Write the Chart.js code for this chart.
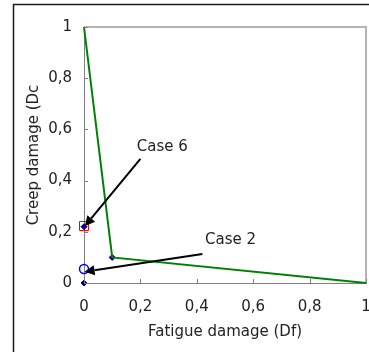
<!DOCTYPE html>
<html>
<head>
<meta charset="utf-8">
<script src="https://cdn.jsdelivr.net/npm/chart.js@4"></script>
<style>
  body { margin: 0; background: #fff; }
  canvas { display: block; }
</style>
</head>
<body>
<canvas id="miGrafico" width="369" height="352"></canvas>
<script>
// datos
const lineaX = [0, 0.1, 1];
const lineaY = [1, 0.1, 0];
const rombosX = [0, 0.1, 0];
const rombosY = [0, 0.1, 0.22];
const caso6 = { x: 0, y: 0.2227 };
const caso2 = { x: 0, y: 0.055 };
const flechaDesde = [[0.2, 0.485], [0.42, 0.113]];
const flechaHasta = [[0.003, 0.222], [0.002, 0.044]];
const etiquetas = ['Case 6', 'Case 2'];
const etiquetaPos = [[0.187, 0.53], [0.429, 0.168]];
const ticksX = [0, 0.2, 0.4, 0.6, 0.8, 1];
const ticksY = [0, 0.2, 0.4, 0.6, 0.8, 1];

const fuente = 'DejaVu Sans';
const colorTexto = '#222';

function aPuntos(xs, ys) {
    return xs.map((x, i) => ({ x: x, y: ys[i] }));
}

function formato(v) {
    return String(Math.round(v * 10) / 10).replace('.', ',');
}

const extras = {
    id: 'extras',
    beforeDraw(chart) {
        const ctx = chart.ctx;
        const a = chart.chartArea;
        ctx.save();
        // marco exterior
        ctx.strokeStyle = '#1a1a1a';
        ctx.lineWidth = 1.5;
        ctx.beginPath();
        ctx.moveTo(13.5, 400);
        ctx.lineTo(13.5, 4.5);
        ctx.lineTo(400, 4.5);
        ctx.stroke();
        // borde superior y derecho del area
        ctx.strokeStyle = '#b4b4b4';
        ctx.lineWidth = 2;
        ctx.beginPath();
        ctx.moveTo(a.left, a.top);
        ctx.lineTo(a.right, a.top);
        ctx.lineTo(a.right, a.bottom);
        ctx.stroke();
        ctx.restore();
    },
    afterDatasetsDraw(chart) {
        const ctx = chart.ctx;
        const x = chart.scales.x;
        const y = chart.scales.y;
        const a = chart.chartArea;
        ctx.save();
        // marcas de los ejes hacia dentro
        ctx.strokeStyle = '#808080';
        ctx.lineWidth = 1;
        ctx.beginPath();
        ticksX.forEach(v => {
            const px = Math.round(x.getPixelForValue(v)) + 0.5;
            ctx.moveTo(px, a.bottom);
            ctx.lineTo(px, a.bottom - 4);
        });
        ticksY.forEach(v => {
            const py = Math.round(y.getPixelForValue(v)) + 0.5;
            ctx.moveTo(a.left, py);
            ctx.lineTo(a.left + 4, py);
        });
        ctx.stroke();

        // flechas
        ctx.strokeStyle = '#000';
        ctx.fillStyle = '#000';
        ctx.lineWidth = 2;
        flechaDesde.forEach((d, i) => {
            const h = flechaHasta[i];
            const x1 = x.getPixelForValue(d[0]), y1 = y.getPixelForValue(d[1]);
            const x2 = x.getPixelForValue(h[0]), y2 = y.getPixelForValue(h[1]);
            const ang = Math.atan2(y2 - y1, x2 - x1);
            const largo = 10, ancho = 5;
            const bx = x2 - largo * Math.cos(ang), by = y2 - largo * Math.sin(ang);
            ctx.beginPath();
            ctx.moveTo(x1, y1);
            ctx.lineTo(bx, by);
            ctx.stroke();
            ctx.beginPath();
            ctx.moveTo(x2, y2);
            ctx.lineTo(bx + ancho * Math.sin(ang), by - ancho * Math.cos(ang));
            ctx.lineTo(bx - ancho * Math.sin(ang), by + ancho * Math.cos(ang));
            ctx.closePath();
            ctx.fill();
        });

        // textos
        ctx.fillStyle = colorTexto;
        ctx.font = '15px "' + fuente + '"';
        ctx.textAlign = 'left';
        ctx.textBaseline = 'middle';
        etiquetas.forEach((t, i) => {
            ctx.fillText(t, x.getPixelForValue(etiquetaPos[i][0]), y.getPixelForValue(etiquetaPos[i][1]));
        });
        ctx.restore();
    }
};

const ctx = document.getElementById('miGrafico').getContext('2d');
const miGrafico = new Chart(ctx, {
    type: 'scatter',
    data: {
        datasets: [
            {
                data: aPuntos(lineaX, lineaY),
                showLine: true,
                borderColor: '#008000',
                borderWidth: 2,
                pointRadius: 0,
                clip: false
            },
            {
                data: aPuntos(rombosX, rombosY),
                pointStyle: 'rectRot',
                pointRadius: 3,
                backgroundColor: '#000080',
                borderColor: '#000080',
                borderWidth: 1,
                clip: false
            },
            {
                data: [caso6],
                pointStyle: 'rect',
                pointRadius: 6.36,
                backgroundColor: 'rgba(0,0,0,0)',
                borderColor: '#ff0000',
                borderWidth: 1,
                clip: false
            },
            {
                data: [caso2],
                pointStyle: 'circle',
                pointRadius: 4.5,
                backgroundColor: 'rgba(0,0,0,0)',
                borderColor: '#0000ff',
                borderWidth: 1.5,
                clip: false
            }
        ]
    },
    options: {
        responsive: false,
        animation: false,
        layout: { autoPadding: false, padding: { left: 0, top: 27, right: 3, bottom: 0 } },
        plugins: {
            legend: { display: false },
            tooltip: { enabled: false }
        },
        scales: {
            x: {
                type: 'linear',
                min: 0,
                max: 1,
                afterBuildTicks: s => { s.ticks = ticksX.map(v => ({ value: v })); },
                afterFit: s => { s.height = 69; s.paddingLeft = 0; s.paddingRight = 0; },
                grid: { display: false, drawTicks: false },
                border: { display: true, color: '#808080', width: 1 },
                ticks: {
                    padding: 15,
                    color: colorTexto,
                    font: { family: fuente, size: 15 },
                    maxRotation: 0,
                    callback: v => formato(v)
                },
                title: {
                    display: true,
                    text: 'Fatigue damage (Df)',
                    color: colorTexto,
                    font: { family: fuente, size: 15 },
                    padding: { top: 0, bottom: 11 }
                }
            },
            y: {
                type: 'linear',
                min: 0,
                max: 1,
                afterBuildTicks: s => { s.ticks = ticksY.map(v => ({ value: v })); },
                afterFit: s => { s.width = 84; s.paddingTop = 0; s.paddingBottom = 0; },
                grid: { display: false, drawTicks: false },
                border: { display: true, color: '#808080', width: 1 },
                ticks: {
                    padding: 12,
                    color: colorTexto,
                    font: { family: fuente, size: 15 },
                    callback: v => formato(v)
                },
                title: {
                    display: true,
                    text: 'Creep damage (Dc',
                    color: colorTexto,
                    font: { family: fuente, size: 15 },
                    padding: { top: 25, bottom: 0 }
                }
            }
        }
    },
    plugins: [extras]
});
</script>
</body>
</html>
